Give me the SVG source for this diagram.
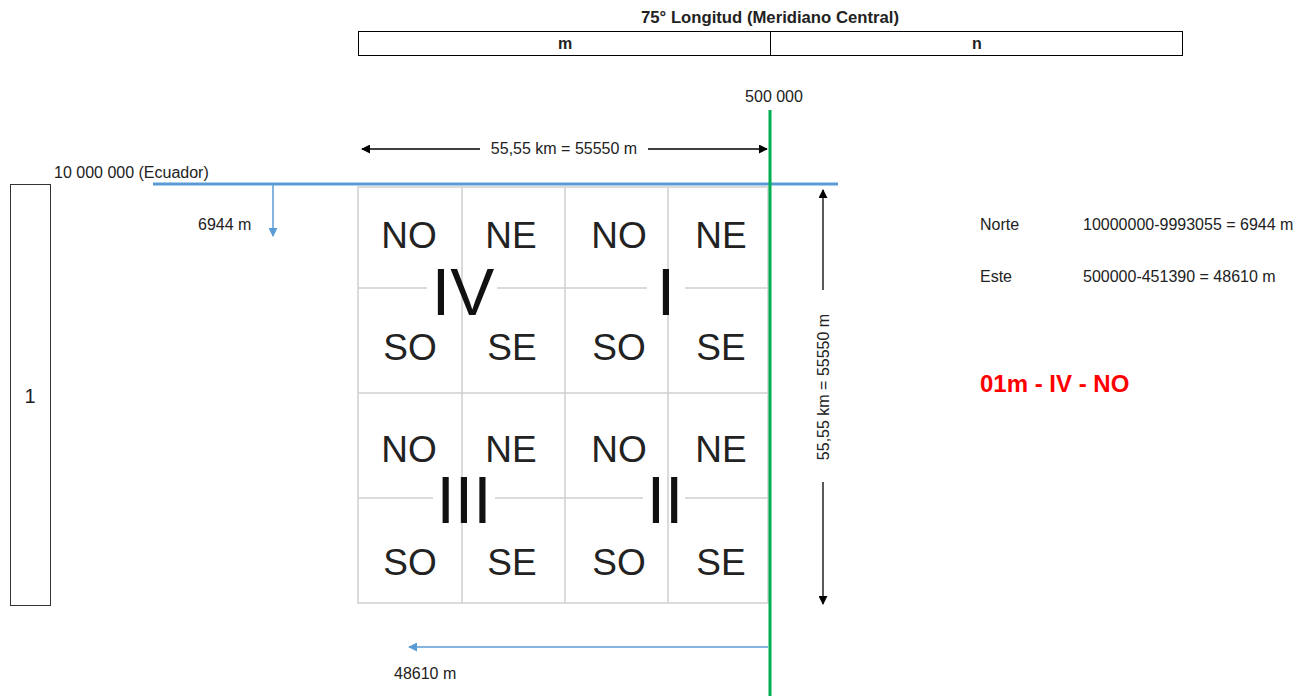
<svg xmlns="http://www.w3.org/2000/svg" width="1306" height="696" viewBox="0 0 1306 696">
<style>
.t{font-family:"Liberation Sans",Arial,sans-serif;font-size:16px;fill:#222}
.b{font-weight:bold}
.g{font-family:"Liberation Sans",Arial,sans-serif;font-size:37px;fill:#222;text-anchor:middle}
.r{font-family:"Liberation Sans",Arial,sans-serif;font-size:66px;fill:#111;text-anchor:middle}
.grid{stroke:#cfcfcf;stroke-width:1.5;fill:none}
.dim{stroke:#000;stroke-width:1.3;fill:none}
.blu{stroke:#5b9bd5;stroke-width:1.5;fill:none}
</style>
<defs>
<marker id="ah" viewBox="0 0 10 10" refX="9" refY="5" markerWidth="9" markerHeight="9" markerUnits="userSpaceOnUse" orient="auto"><path d="M0,0 L10,5 L0,10 z" fill="#000"/></marker>
<marker id="bh" viewBox="0 0 10 10" refX="9" refY="5" markerWidth="9" markerHeight="9" markerUnits="userSpaceOnUse" orient="auto"><path d="M0,0 L10,5 L0,10 z" fill="#5b9bd5"/></marker>
</defs>
<rect width="1306" height="696" fill="#fff"/>

<g id="header">
<text class="t b" x="770" y="23" text-anchor="middle" style="font-size:16.7px">75° Longitud (Meridiano Central)</text>
<rect x="358.5" y="31.5" width="824" height="24" fill="none" stroke="#000" stroke-width="1"/>
<line x1="770.5" y1="31.5" x2="770.5" y2="55.5" stroke="#000" stroke-width="1"/>
<text class="t b" x="565" y="49" text-anchor="middle">m</text>
<text class="t b" x="977" y="49" text-anchor="middle">n</text>
</g>

<g id="zone-box">
<rect x="10.5" y="184.5" width="40" height="421" fill="none" stroke="#333" stroke-width="1"/>
<text class="t" x="30" y="403" text-anchor="middle" style="font-size:20px">1</text>
</g>

<g id="grid">
<rect x="358" y="187" width="410" height="416" class="grid"/>
<line x1="462" y1="187" x2="462" y2="603" class="grid"/>
<line x1="565" y1="187" x2="565" y2="603" class="grid"/>
<line x1="668" y1="187" x2="668" y2="603" class="grid"/>
<line x1="358" y1="393" x2="768" y2="393" class="grid"/>
<line x1="358" y1="288" x2="427" y2="288" class="grid"/>
<line x1="497" y1="288" x2="647" y2="288" class="grid"/>
<line x1="685" y1="288" x2="768" y2="288" class="grid"/>
<line x1="358" y1="498" x2="433" y2="498" class="grid"/>
<line x1="495" y1="498" x2="643" y2="498" class="grid"/>
<line x1="685" y1="498" x2="768" y2="498" class="grid"/>
</g>

<g id="quadrant-IV">
<text class="g" x="409" y="248">NO</text>
<text class="g" x="511" y="248">NE</text>
<text class="g" x="410" y="360">SO</text>
<text class="g" x="512" y="360">SE</text>
<text class="r" x="463" y="315">IV</text>
</g>
<g id="quadrant-I">
<text class="g" x="619" y="248">NO</text>
<text class="g" x="721" y="248">NE</text>
<text class="g" x="619" y="360">SO</text>
<text class="g" x="721" y="360">SE</text>
<text class="r" x="666" y="315">I</text>
</g>
<g id="quadrant-III">
<text class="g" x="409" y="462">NO</text>
<text class="g" x="511" y="462">NE</text>
<text class="g" x="410" y="575">SO</text>
<text class="g" x="512" y="575">SE</text>
<text class="r" x="464" y="523">III</text>
</g>
<g id="quadrant-II">
<text class="g" x="619" y="462">NO</text>
<text class="g" x="721" y="462">NE</text>
<text class="g" x="619" y="575">SO</text>
<text class="g" x="721" y="575">SE</text>
<text class="r" x="665" y="523">II</text>
</g>

<g id="connectors">
<line x1="153" y1="184" x2="838" y2="184" stroke="#5b9bd5" stroke-width="3"/>
<line x1="770" y1="110" x2="770" y2="696" stroke="#00b050" stroke-width="3"/>
<line x1="480" y1="149" x2="362" y2="149" class="dim" marker-end="url(#ah)"/>
<line x1="648" y1="149" x2="767" y2="149" class="dim" marker-end="url(#ah)"/>
<line x1="823" y1="290" x2="823" y2="190" class="dim" marker-end="url(#ah)"/>
<line x1="823" y1="482" x2="823" y2="604" class="dim" marker-end="url(#ah)"/>
<line x1="273" y1="185" x2="273" y2="236" class="blu" marker-end="url(#bh)"/>
<line x1="768" y1="647" x2="409" y2="647" class="blu" marker-end="url(#bh)"/>
</g>

<g id="labels">
<text class="t" x="774" y="102" text-anchor="middle">500 000</text>
<text class="t" x="564" y="154" text-anchor="middle">55,55 km = 55550 m</text>
<text class="t" x="54" y="178">10 000 000 (Ecuador)</text>
<text class="t" x="198" y="230">6944 m</text>
<text class="t" x="394" y="679">48610 m</text>
<text class="t" x="0" y="0" text-anchor="middle" transform="translate(829 387) rotate(-90)">55,55 km = 55550 m</text>
</g>

<g id="calc">
<text class="t" x="980" y="230">Norte</text>
<text class="t" x="1083" y="230">10000000-9993055 = 6944 m</text>
<text class="t" x="980" y="282">Este</text>
<text class="t" x="1083" y="282">500000-451390 = 48610 m</text>
<text class="t b" x="980" y="392" style="font-size:24px;fill:#ff0000">01m - IV - NO</text>
</g>
</svg>
